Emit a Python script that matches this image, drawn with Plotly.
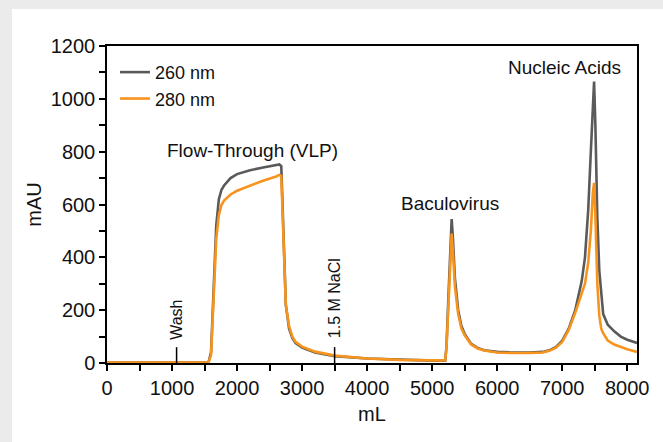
import plotly.graph_objects as go

# ---- data ----
volume_ml = [0, 500, 1000, 1500, 1560, 1600, 1640, 1680, 1720, 1760, 1800, 1900, 2000, 2200,
             2400, 2600, 2650, 2680, 2700, 2720, 2750, 2800, 2850, 2900, 3000, 3200, 3500,
             4000, 4500, 5000, 5200, 5220, 5250, 5280, 5300, 5320, 5350, 5400, 5450, 5500,
             5600, 5700, 5800, 6000, 6200, 6500, 6700, 6800, 6900, 7000, 7100, 7200, 7300,
             7350, 7400, 7440, 7470, 7490, 7510, 7540, 7570, 7600, 7630, 7700, 7800, 7900,
             8000, 8150]

abs_260 = [2, 2, 2, 2, 2, 40, 300, 520, 620, 655, 672, 700, 715, 730,
           740, 749, 752, 745, 600, 400, 220, 130, 95, 75, 58, 40, 26,
           17, 12, 9, 9, 60, 250, 470, 545, 470, 320, 200, 140, 110,
           72, 57, 48, 42, 40, 40, 42, 48, 60, 85, 130, 200, 310,
           400, 580, 800, 1000, 1065, 900, 550, 350, 250, 185, 145, 120, 100,
           88, 76]

abs_280 = [2, 2, 2, 2, 2, 30, 250, 470, 560, 598, 615, 638, 652, 672,
           690, 706, 712, 708, 560, 380, 220, 140, 100, 80, 62, 43, 28,
           17, 12, 10, 10, 55, 220, 420, 490, 420, 290, 185, 130, 105,
           70, 55, 47, 40, 38, 38, 40, 46, 57, 80, 125, 190, 260,
           300, 380, 500, 640, 682, 560, 300, 180, 130, 113, 85, 70, 60,
           52, 42]

series_names = ["260 nm", "280 nm"]
series_colors = ["#5a5a5a", "#f7941d"]

peak_labels = ["Flow-Through (VLP)", "Baculovirus", "Nucleic Acids"]
peak_label_x = [2230, 5280, 7040]
peak_label_y = [805, 605, 1120]

event_labels = ["Wash", "1.5 M NaCl"]
event_x = [1070, 3500]
event_tick_top = [60, 60]
event_label_y = [162, 244]

x_ticks = [0, 1000, 2000, 3000, 4000, 5000, 6000, 7000, 8000]
y_ticks = [0, 200, 400, 600, 800, 1000, 1200]

FONT = "Liberation Sans, Arial, Helvetica, sans-serif"

fig = go.Figure()
for name, ys, col in zip(series_names, [abs_260, abs_280], series_colors):
    fig.add_trace(go.Scatter(x=volume_ml, y=ys, mode="lines", name=name,
                             line=dict(color=col, width=2.6)))

# background card
fig.add_shape(type="rect", xref="paper", yref="paper",
              x0=(12 - 107) / 530, x1=(663 - 107) / 530,
              y0=(363 - 445) / 317, y1=(363 - 9) / 317,
              fillcolor="white", line=dict(width=0), layer="below")

for lab, xv, top, ly in zip(event_labels, event_x, event_tick_top, event_label_y):
    fig.add_shape(type="line", x0=xv, x1=xv, y0=0, y1=top,
                  line=dict(color="black", width=1.5))
    fig.add_annotation(x=xv, y=ly, text=lab, textangle=-90, showarrow=False,
                       xanchor="center", yanchor="middle",
                       font=dict(size=16, color="#111"))

for lab, xv, yv in zip(peak_labels, peak_label_x, peak_label_y):
    fig.add_annotation(x=xv, y=yv, text=lab, showarrow=False,
                       xanchor="center", yanchor="middle",
                       font=dict(size=19, color="#111"))

axis_common = dict(showline=True, linecolor="black", linewidth=1.5, mirror=True,
                   ticks="outside", ticklen=6, tickwidth=1.5, tickcolor="black",
                   showgrid=False, zeroline=False,
                   tickfont=dict(size=20, color="#111"))

fig.update_xaxes(range=[0, 8150], tickvals=x_ticks,
                 minor=dict(dtick=500, tick0=0, ticks="outside", ticklen=6,
                            tickwidth=1.5, tickcolor="black", showgrid=False),
                 title=dict(text="mL", font=dict(size=20, color="#111"), standoff=9),
                 **axis_common)
fig.update_yaxes(range=[0, 1200], tickvals=y_ticks,
                 minor=dict(dtick=100, tick0=0, ticks="outside", ticklen=6,
                            tickwidth=1.5, tickcolor="black", showgrid=False),
                 title=dict(text="mAU", font=dict(size=20, color="#111"), standoff=4),
                 **axis_common)

fig.update_layout(
    width=663, height=442,
    margin=dict(l=107, r=26, t=46, b=79, pad=0),
    paper_bgcolor="#ebebeb", plot_bgcolor="white",
    font=dict(family=FONT, color="#111"),
    showlegend=True,
    legend=dict(x=0.015, y=0.975, xanchor="left", yanchor="top",
                bgcolor="rgba(0,0,0,0)", font=dict(size=18),
                tracegroupgap=0, itemwidth=30),
)

fig.write_html("out.html", config={"displayModeBar": False},
               post_script="document.body.style.margin='0px';document.body.style.overflow='hidden';")
